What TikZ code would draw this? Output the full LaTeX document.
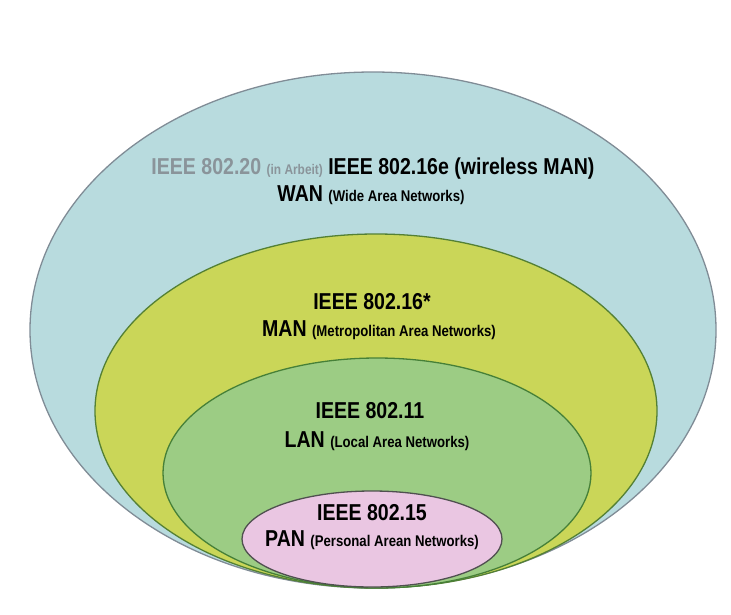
\documentclass[tikz,border=0pt]{standalone}
\usepackage{fontspec}
\setmainfont{Liberation Sans}[FakeStretch=0.85]
\usetikzlibrary{shapes.geometric}

\definecolor{wanfill}{RGB}{184,219,222}
\definecolor{wanline}{RGB}{128,140,150}
\definecolor{manfill}{RGB}{202,214,88}
\definecolor{manline}{RGB}{84,128,52}
\definecolor{lanfill}{RGB}{156,204,132}
\definecolor{lanline}{RGB}{70,128,56}
\definecolor{panfill}{RGB}{234,198,226}
\definecolor{panline}{RGB}{80,80,80}
\definecolor{graytext}{RGB}{138,148,154}

\newcommand{\smalltxt}[1]{{\fontsize{15.5}{18}\selectfont #1}}
\newcommand{\tinytxt}[1]{{\fontsize{14}{16}\selectfont #1}}

\begin{document}
\begin{tikzpicture}[x=1pt, y=-1pt,
        zone/.style={draw, ellipse, line width=1.3pt, inner sep=0pt, outer sep=0pt},
        lbl/.style={anchor=base, inner sep=0pt, font=\bfseries\fontsize{23}{27}\selectfont}]
        \useasboundingbox (0,0) rectangle (731,614);

        \node[zone, fill=wanfill, draw=wanline, minimum width=686pt, minimum height=516pt] (W) at (373,330) {};
        \node[zone, fill=manfill, draw=manline, minimum width=562pt, minimum height=354pt] (M) at (376,411) {};
        \node[zone, fill=lanfill, draw=lanline, minimum width=428pt, minimum height=230pt] (L) at (377,473) {};
        \node[zone, fill=panfill, draw=panline, minimum width=260pt, minimum height=96pt] (P) at (372,539) {};

        \node[lbl] (W1) at (373,174) {\textcolor{graytext}{IEEE 802.20 \tinytxt{(in Arbeit)}} IEEE 802.16e (wireless MAN)};
        \node[lbl] (W2) at (371,201) {WAN \smalltxt{(Wide Area Networks)}};

        \node[lbl] (M1) at (372,309) {IEEE 802.16*};
        \node[lbl] (M2) at (379,336) {MAN \smalltxt{(Metropolitan Area Networks)}};

        \node[lbl] (L1) at (370,418) {IEEE 802.11};
        \node[lbl] (L2) at (377,447) {LAN \smalltxt{(Local Area Networks)}};

        \node[lbl] (P1) at (372,520) {IEEE 802.15};
        \node[lbl] (P2) at (372,546) {PAN \smalltxt{(Personal Arean Networks)}};
    \end{tikzpicture}
\end{document}
